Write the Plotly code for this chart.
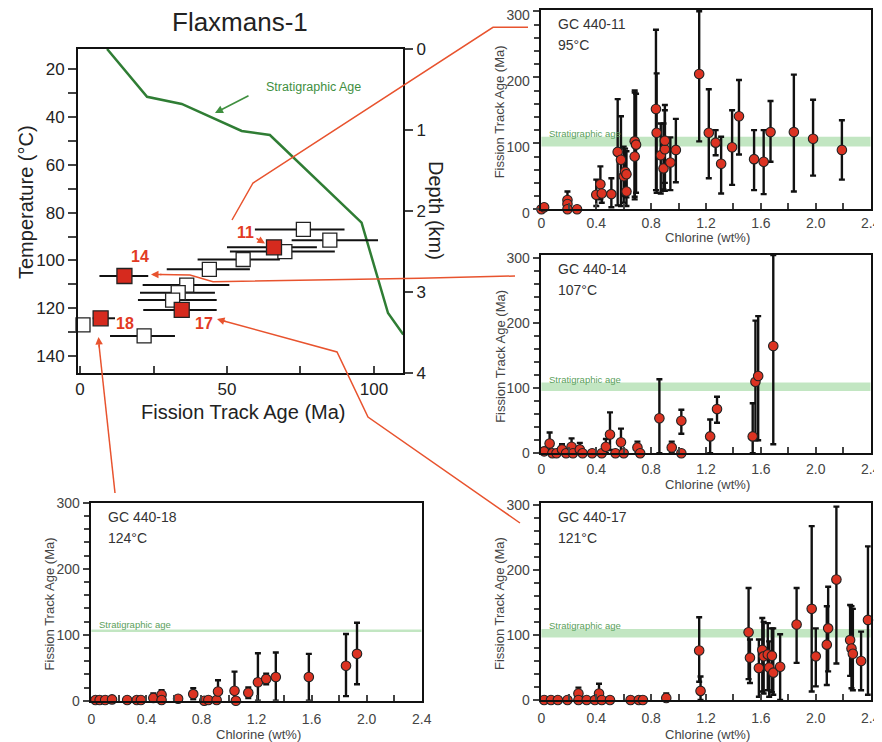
import plotly.graph_objects as go

# The page body has an 8px margin, so the figure is drawn 8px in from the top-left corner.
OFF = 8
W, H = 882 - OFF, 742 - OFF
def px(x): return (x - OFF) / W
def py(y): return 1 - (y - OFF) / H

FONT = "Liberation Sans, Arial, sans-serif"
ORANGE = "#e8532e"
RED_LBL = "#e23a24"
GREEN = "#2f7d34"

# ---------------- Main panel (Flaxmans-1) ----------------
strat_age = [9.2, 22.8, 34.6, 55.0, 64.6, 95.8, 104.8, 110.0]
strat_temp = [11.5, 31.5, 34.5, 45.8, 47.5, 84.2, 122.0, 131.0]

white_age = [76.0, 85.0, 69.7, 55.5, 44.0, 36.3, 33.4, 31.5, 1.0, 21.8]
white_temp = [87.0, 91.5, 96.3, 99.6, 103.7, 110.3, 113.5, 116.6, 127.0, 131.6]
white_lo = [59.5, 72.0, 51.0, 40.0, 29.5, 21.3, 20.4, 19.7, 1.0, 10.2]
white_hi = [90.0, 101.4, 86.7, 68.0, 57.8, 50.8, 45.9, 46.5, 1.0, 32.3]

red_age = [66.0, 15.1, 34.6, 7.0]
red_temp = [94.5, 106.5, 120.7, 124.2]
red_lo = [50.0, 6.6, 21.5, 4.3]
red_hi = [80.6, 23.2, 46.5, 11.9]
red_label = ["11", "14", "17", "18"]

temp_ticks = [20, 40, 60, 80, 100, 120, 140]
depth_ticks = [0, 1, 2, 3, 4]
age_ticks = [0, 50, 100]

# ---------------- Chlorine panels ----------------
cl_11 = [0.00, 0.02, 0.19, 0.19, 0.19, 0.26, 0.40, 0.43, 0.44, 0.51, 0.556, 0.58, 0.60, 0.61, 0.62, 0.62,
         0.68, 0.68, 0.69, 0.835, 0.84, 0.87, 0.89, 0.90, 0.90, 0.94, 0.98, 1.15, 1.22, 1.27, 1.31, 1.39,
         1.44, 1.55, 1.62, 1.67, 1.84, 1.98, 2.19]
age_11 = [0, 3, 14, 8, 0, 0, 22, 38, 24, 23, 87, 75, 50, 57, 53, 27,
          80, 103, 98, 152, 116, 82, 62, 91, 104, 71, 90, 205, 116, 101, 69, 94,
          141, 76, 72, 117, 117, 107, 90]
hi_11 = [0, 3, 27, 14, 0, 0, 45, 65, 40, 47, 167, 141, 95, 92, 88, 50,
         177, 180, 175, 272, 206, 130, 130, 158, 150, 109, 137, 300, 182, 120, 110, 150,
         196, 120, 120, 164, 204, 166, 135]
lo_11 = [0, 3, 2, 0, 0, 0, 5, 15, 10, 3, 6, 5, 10, 20, 18, 5,
         15, 19, 25, 29, 25, 24, 30, 28, 40, 29, 41, 103, 47, 82, 24, 37,
         83, 29, 23, 72, 27, 51, 45]

cl_14 = [0.02, 0.06, 0.08, 0.11, 0.15, 0.18, 0.22, 0.23, 0.28, 0.30, 0.37, 0.44, 0.47, 0.50, 0.54,
         0.58, 0.60, 0.70, 0.72, 0.86, 0.95, 1.02, 1.02, 1.23, 1.28, 1.54, 1.56, 1.58, 1.69]
age_14 = [3, 15, 0, 0, 6, 0, 10, 0, 6, 0, 0, 0, 10, 29, 0,
          17, 0, 9, 0, 54, 9, 50, 0, 26, 68, 26, 110, 119, 165]
hi_14 = [3, 32, 0, 0, 14, 0, 23, 0, 16, 0, 0, 0, 22, 63, 0,
         38, 0, 18, 0, 114, 18, 67, 0, 52, 87, 77, 204, 211, 305]
lo_14 = [3, 3, 0, 0, 0, 0, 0, 0, 0, 0, 0, 0, 0, 5, 0,
         0, 0, 0, 0, 0, 0, 30, 0, 0, 47, 0, 20, 20, 14]

cl_18 = [0.03, 0.06, 0.10, 0.15, 0.26, 0.33, 0.36, 0.45, 0.51, 0.51, 0.63, 0.74, 0.82, 0.85, 0.91,
         0.92, 1.04, 1.05, 1.14, 1.21, 1.27, 1.34, 1.58, 1.85, 1.93]
age_18 = [1, 1, 1, 2, 1, 1, 1, 4, 9, 1, 3, 10, 0, 1, 1,
          14, 15, 0, 12, 28, 33, 36, 36, 53, 71]
hi_18 = [1, 1, 1, 2, 1, 1, 1, 11, 16, 1, 3, 19, 0, 1, 1,
         31, 44, 0, 20, 72, 41, 73, 71, 101, 118]
lo_18 = [1, 1, 1, 2, 1, 1, 1, 0, 2, 1, 3, 2, 0, 1, 1,
         0, 0, 0, 4, 0, 25, 0, 0, 7, 25]

cl_17 = [0.02, 0.07, 0.12, 0.19, 0.27, 0.27, 0.33, 0.39, 0.42, 0.44, 0.50, 0.65, 0.71, 0.74, 0.91,
         1.15, 1.16, 1.51, 1.52, 1.585, 1.61, 1.62, 1.65, 1.66, 1.68, 1.69, 1.74, 1.86, 1.97, 2.00,
         2.08, 2.09, 2.15, 2.25, 2.26, 2.27, 2.33, 2.38]
age_17 = [0, 0, 0, 0, 10, 0, 0, 0, 10, 0, 0, 0, 0, 0, 3,
          76, 14, 104, 65, 49, 77, 67, 70, 50, 68, 42, 51, 116, 140, 67,
          85, 110, 185, 92, 79, 71, 60, 123]
hi_17 = [0, 0, 0, 0, 19, 0, 0, 0, 25, 0, 0, 0, 0, 0, 10,
         127, 36, 172, 93, 93, 126, 120, 118, 90, 110, 110, 101, 172, 267, 110,
         144, 174, 297, 146, 144, 140, 105, 236]
lo_17 = [0, 0, 0, 0, 0, 0, 0, 0, 0, 0, 0, 0, 0, 0, 0,
         28, 0, 32, 26, 5, 13, 10, 15, 5, 12, 8, 0, 57, 13, 21,
         23, 44, 56, 37, 18, 15, 15, 8]

cl_ticks = [0, 0.4, 0.8, 1.2, 1.6, 2.0, 2.4]
cl_ticktext = ["0", "0.4", "0.8", "1.2", "1.6", "2.0", "2.4"]
fta_ticks = [0, 100, 200, 300]

panels = [
    # name, temp, data..., strat band, strat text y, axes, x px, y px, y max,
    # x tick standoff, x title offset, y label shift
    ("GC 440-11", "95°C", cl_11, age_11, hi_11, lo_11, 95, 110, 115, "x3", "y3", (540.7, 870.7), (10, 209.3), 302, 0, 28, 4),
    ("GC 440-14", "107°C", cl_14, age_14, hi_14, lo_14, 96, 109, 114, "x4", "y4", (540.7, 870.7), (255, 453.3), 305, 2, 31, 0),
    ("GC 440-18", "124°C", cl_18, age_18, hi_18, lo_18, 104, 108, 116, "x5", "y5", (90.7, 421.7), (502.7, 700.7), 300, 4, 34, 0),
    ("GC 440-17", "121°C", cl_17, age_17, hi_17, lo_17, 96, 109, 114, "x6", "y6", (540.7, 870.7), (502.7, 700.0), 303, 4, 34, 0),
]

fig = go.Figure()

fig.add_trace(go.Scatter(x=strat_age, y=strat_temp, mode="lines",
                         line=dict(color=GREEN, width=2.5), xaxis="x", yaxis="y",
                         showlegend=False, hoverinfo="skip"))
all_age = white_age + red_age
all_temp = white_temp + red_temp
all_lo = white_lo + red_lo
all_hi = white_hi + red_hi
fig.add_trace(go.Scatter(x=all_age, y=all_temp, mode="markers",
                         marker=dict(size=1, opacity=0),
                         error_x=dict(type="data", symmetric=False,
                                      array=[h - a for h, a in zip(all_hi, all_age)],
                                      arrayminus=[a - l for a, l in zip(all_age, all_lo)],
                                      color="#111", thickness=2, width=0),
                         xaxis="x", yaxis="y", showlegend=False, hoverinfo="skip"))
fig.add_trace(go.Scatter(x=white_age, y=white_temp, mode="markers",
                         marker=dict(symbol="square", size=14, color="white",
                                     line=dict(color="#222", width=1.3)),
                         xaxis="x", yaxis="y", showlegend=False, cliponaxis=False))
fig.add_trace(go.Scatter(x=red_age, y=red_temp, mode="markers",
                         marker=dict(symbol="square", size=15, color="#d62a1e",
                                     line=dict(color="#222", width=1.3)),
                         xaxis="x", yaxis="y", showlegend=False, cliponaxis=False))
fig.add_trace(go.Scatter(x=[0, 0], y=[depth_ticks[0], depth_ticks[-1]], mode="markers",
                         marker=dict(size=1, opacity=0), xaxis="x", yaxis="y2",
                         showlegend=False, hoverinfo="skip"))

shapes = []
annotations = []

def txt(x, y, text, size, color, angle=0, xanchor="center", yanchor="middle"):
    return dict(xref="paper", yref="paper", x=px(x), y=py(y), text=text, showarrow=False,
                textangle=angle, xanchor=xanchor, yanchor=yanchor,
                font=dict(size=size, color=color, family=FONT))

for (name, temp, cl, age, hi, lo, s_lo, s_hi, s_txt, xa, ya, xr, yr, ymax, tso, tto, yls) in panels:
    fig.add_trace(go.Scatter(
        x=cl, y=age, mode="markers",
        marker=dict(symbol="circle", size=9.5, color="#dc3322", line=dict(color="#222", width=1.1)),
        error_y=dict(type="data", symmetric=False,
                     array=[h - a for h, a in zip(hi, age)],
                     arrayminus=[a - l for a, l in zip(age, lo)],
                     color="#111", thickness=2.4, width=3),
        xaxis=xa, yaxis=ya, showlegend=False, cliponaxis=False))
    shapes.append(dict(type="rect", xref=xa, yref=ya, x0=0, x1=2.4, y0=s_lo, y1=s_hi,
                       fillcolor="rgba(110,195,110,0.42)", line=dict(width=0), layer="below"))
    annotations.append(dict(xref=xa, yref=ya, x=0.04, y=s_txt, text="Stratigraphic age",
                            showarrow=False, xanchor="left", yanchor="middle",
                            font=dict(size=9.5, color="#5aa05a", family=FONT)))
    h = yr[1] - yr[0]
    annotations.append(dict(xref=xa + " domain", yref=ya + " domain", x=0.045, y=1 - 14 / h,
                            text=name, showarrow=False, xanchor="left", yanchor="middle",
                            font=dict(size=14, color="#333", family=FONT)))
    annotations.append(dict(xref=xa + " domain", yref=ya + " domain", x=0.045, y=1 - 35 / h,
                            text=temp, showarrow=False, xanchor="left", yanchor="middle",
                            font=dict(size=14, color="#333", family=FONT)))
    annotations.append(txt((xr[0] + xr[1]) / 2 + 2, yr[1] + tto, "Chlorine (wt%)", 13, "#444"))
    annotations.append(txt(xr[0] - 41, (yr[0] + yr[1]) / 2 + 2, "Fission Track Age (Ma)", 13, "#444", angle=-90))

annotations += [
    txt(240, 22, "Flaxmans-1", 26, "#222"),
    txt(26, 202, "Temperature (°C)", 20, "#222", angle=-90),
    txt(243, 412, "Fission Track Age (Ma)", 20, "#222"),
    txt(436, 210, "Depth (km)", 20, "#222", angle=90),
    txt(313, 87, "Stratigraphic Age", 12.5, "#3f8f3f"),
    dict(xref="paper", yref="paper", x=px(215), y=py(113), ax=35, ay=-18, text="", showarrow=True,
         arrowhead=2, arrowsize=1, arrowwidth=1.6, arrowcolor="#3f8f3f"),
]
lbl_pos = [(245, 232), (140, 257), (204, 323), (125, 324)]
for lbl, (lx, ly) in zip(red_label, lbl_pos):
    annotations.append(txt(lx, ly, "<b>%s</b>" % lbl, 16, RED_LBL))

def path(pts):
    s = "M %f %f" % (px(pts[0][0]), py(pts[0][1]))
    for x, y in pts[1:]:
        s += " L %f %f" % (px(x), py(y))
    return s

for pts in [
    [(528, 27.3), (493, 27.3), (253, 183), (232, 220)],
    [(515, 276), (420, 278.3), (213, 281.7), (190, 275), (160, 274.5)],
    [(520, 523), (368, 417), (337, 352), (222, 320.5)],
    [(115, 493), (99, 345)],
]:
    shapes.append(dict(type="path", xref="paper", yref="paper", path=path(pts),
                       line=dict(color=ORANGE, width=1.5)))

for (tx, ty, ax, ay) in [(151, 274.5, 12, 0), (217, 319, 10, 3), (98.5, 337, 1, 12), (265, 243.5, -10, -6)]:
    annotations.append(dict(xref="paper", yref="paper", x=px(tx), y=py(ty), ax=ax, ay=ay, text="",
                            showarrow=True, arrowhead=2, arrowsize=1, arrowwidth=1.5, arrowcolor=ORANGE))

axis_common = dict(showline=True, linewidth=2, linecolor="#111", showgrid=False, zeroline=False,
                   automargin=False, ticklabeloverflow="allow")

layout = dict(
    width=W, height=H, margin=dict(l=0, r=0, t=0, b=0, autoexpand=False),
    paper_bgcolor="white", plot_bgcolor="white",
    font=dict(family=FONT),
    xaxis=dict(axis_common, domain=[px(78), px(403)], range=[-0.7, 109.9], anchor="y", mirror=True,
               ticks="inside", ticklen=7, tickwidth=2, tickvals=age_ticks,
               minor=dict(dtick=25, tick0=0, ticks="inside", ticklen=7, tickwidth=2),
               tickfont=dict(size=17, family=FONT, color="#222")),
    yaxis=dict(axis_common, domain=[py(373), py(49)], range=[147.1, 11.5], anchor="x",
               ticks="outside", ticklen=8, tickwidth=2, tickvals=temp_ticks,
               minor=dict(dtick=10, tick0=0, ticks="outside", ticklen=8, tickwidth=2),
               tickfont=dict(size=17, family=FONT, color="#222")),
    yaxis2=dict(axis_common, overlaying="y", side="right", anchor="x", range=[4, 0],
                ticks="outside", ticklen=8, tickwidth=2, tickvals=depth_ticks,
                tickfont=dict(size=17, family=FONT, color="#222")),
    shapes=shapes, annotations=annotations,
)

for (name, temp, cl, age, hi, lo, s_lo, s_hi, s_txt, xa, ya, xr, yr, ymax, tso, tto, yls) in panels:
    xk = "xaxis" + xa[1:]
    yk = "yaxis" + ya[1:]
    layout[xk] = dict(axis_common, domain=[px(xr[0]), px(xr[1])], range=[-0.005, 2.4], anchor=ya,
                      mirror=True, ticks="inside", ticklen=6, tickwidth=2,
                      tickvals=cl_ticks, ticktext=cl_ticktext, ticklabelstandoff=tso,
                      minor=dict(dtick=0.2, tick0=0, ticks="inside", ticklen=6, tickwidth=2),
                      tickfont=dict(size=14, family=FONT, color="#444"))
    layout[yk] = dict(axis_common, domain=[py(yr[1]), py(yr[0])], range=[0, ymax], anchor=xa,
                      mirror=True, ticks="outside", ticklen=6, tickwidth=2, tickvals=fta_ticks,
                      ticklabelshift=yls,
                      minor=dict(dtick=20, tick0=0, ticks="outside", ticklen=5, tickwidth=2),
                      tickfont=dict(size=14, family=FONT, color="#444"))

fig.update_layout(**layout)
fig.write_html("out.html")
